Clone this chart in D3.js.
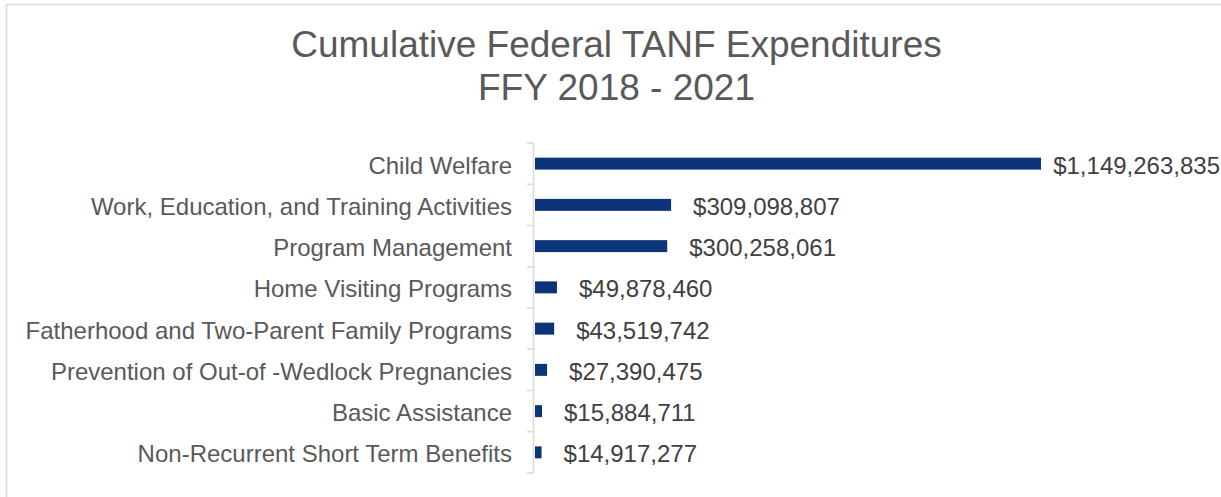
<!DOCTYPE html>
<html>
<head>
<meta charset="utf-8">
<script src="https://cdn.jsdelivr.net/npm/d3@7"></script>
<style>
  html, body { margin: 0; padding: 0; background: #ffffff; }
  svg { display: block; font-family: "Liberation Sans", Arial, sans-serif; }
</style>
</head>
<body>
<svg id="chart" width="1221" height="497"></svg>
<script>
const categories = [
  "Child Welfare",
  "Work, Education, and Training Activities",
  "Program Management",
  "Home Visiting Programs",
  "Fatherhood and Two-Parent Family Programs",
  "Prevention of Out-of -Wedlock Pregnancies",
  "Basic Assistance",
  "Non-Recurrent Short Term Benefits"
];
const expenditures = [
  1149263835,
  309098807,
  300258061,
  49878460,
  43519742,
  27390475,
  15884711,
  14917277
];
const titleLines = ["Cumulative Federal TANF Expenditures", "FFY 2018 - 2021"];

const W = 1221, H = 497;
const svg = d3.select("#chart");

// chart area border (left and top visible)
svg.append("rect")
  .attr("x", 6.5).attr("y", 4.5)
  .attr("width", 1400).attr("height", 700)
  .attr("fill", "none").attr("stroke", "#d9d9d9").attr("stroke-width", 1.5);

// title
const title = svg.append("text")
  .attr("text-anchor", "middle")
  .attr("fill", "#595959")
  .style("font-size", "37px");
title.selectAll("tspan").data(titleLines).join("tspan")
  .attr("x", 616.5)
  .attr("y", (d, i) => 57 + i * 43)
  .text(d => d);

const axisX = 533.5;
const x = d3.scaleLinear()
  .domain([0, d3.max(expenditures)])
  .range([535, 1041]);

const y = d3.scaleBand()
  .domain(categories)
  .range([143, 473])
  .paddingInner(0.71)
  .paddingOuter(0.355);

// category labels via axis
const yAxis = d3.axisLeft(y).tickSize(0).tickPadding(21.5);
const gY = svg.append("g")
  .attr("transform", `translate(${axisX},0)`)
  .call(yAxis);
gY.select(".domain").remove();
gY.selectAll("text")
  .attr("fill", "#595959")
  .attr("dy", "0.42em")
  .style("font-size", "24px")
  .style("font-family", "'Liberation Sans', Arial, sans-serif");

// axis line and boundary ticks
svg.append("line")
  .attr("x1", axisX).attr("x2", axisX)
  .attr("y1", y.range()[0]).attr("y2", y.range()[1])
  .attr("stroke", "#d9d9d9").attr("stroke-width", 1.5);
const bounds = d3.range(categories.length + 1).map(i => y.range()[0] + i * y.step());
svg.selectAll("line.btick").data(bounds).join("line")
  .attr("class", "btick")
  .attr("x1", axisX - 6.5).attr("x2", axisX)
  .attr("y1", d => d).attr("y2", d => d)
  .attr("stroke", "#d9d9d9").attr("stroke-width", 1.5);

// bars
svg.selectAll("rect.bar").data(expenditures).join("rect")
  .attr("class", "bar")
  .attr("x", x(0))
  .attr("y", (d, i) => y(categories[i]))
  .attr("width", d => x(d) - x(0))
  .attr("height", y.bandwidth())
  .attr("fill", "#0c3478");

// value labels
const fmt = d3.format("$,");
const labels = svg.selectAll("text.val").data(expenditures).join("text")
  .attr("class", "val")
  .attr("y", (d, i) => y(categories[i]) + y.bandwidth() / 2)
  .attr("dy", "0.42em")
  .attr("fill", "#404040")
  .style("font-size", "24px")
  .text(d => fmt(d));
labels.each(function(d) {
  const w = this.getComputedTextLength();
  let px = x(d) + 22;
  if (px + w > W - 1) px = W - 1 - w;
  d3.select(this).attr("x", px);
});
</script>
</body>
</html>
